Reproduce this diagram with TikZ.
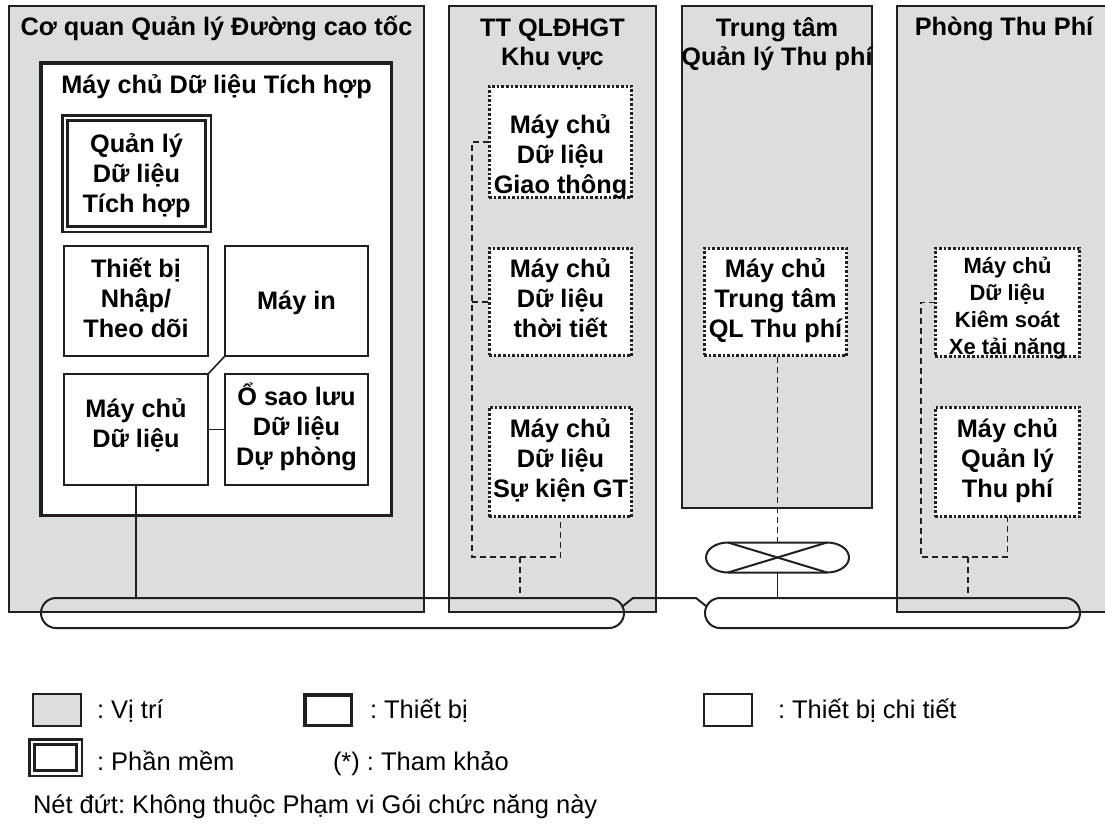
\documentclass[tikz,border=0pt]{standalone}
\usepackage{fontspec}
\setmainfont{Liberation Sans}
\usetikzlibrary{calc,shapes.misc}
\definecolor{locgray}{RGB}{220,221,223}
\definecolor{ink}{RGB}{35,31,32}
\newcommand\mys{\rule[-7pt]{0pt}{37pt}}
\newcommand\mysb{\rule[-6pt]{0pt}{32pt}}
\newcommand\tightlines{\lineskiplimit=-100pt\lineskip=0pt}
\frenchspacing
\begin{document}
\begin{tikzpicture}[x=1pt,y=-1pt,
  every node/.style={inner sep=0pt, outer sep=0pt},
  loc/.style={draw=ink, fill=locgray, line width=1.6pt},
  devbox/.style={draw=ink, fill=white, line width=3.5pt},
  detail/.style={draw=ink, fill=white, line width=1.6pt},
  softbox/.style={draw=ink, double=white, double distance=2.7pt, line width=2.5pt},
  dotbox/.style={draw=ink, fill=white, line width=2.6pt, dash pattern=on 2.6pt off 2pt},
  busline/.style={draw=ink, line width=2pt},
  conn/.style={draw=ink, line width=1.6pt},
  dashln/.style={draw=ink, line width=1.5pt, dash pattern=on 6pt off 4pt},
  ttl/.style={font=\fontsize{25.3}{30}\selectfont\bfseries, anchor=base},
  lbl/.style={font=\fontsize{25.3}{30}\selectfont\bfseries\tightlines, align=center},
  lbls/.style={font=\fontsize{22}{27.3}\selectfont\bfseries\tightlines, align=center},
  leg/.style={font=\fontsize{25.5}{30}\selectfont\frenchspacing, anchor=base west}]
\useasboundingbox (0,0) rectangle (1105,825);

% locations
\node[loc, minimum width=415.4pt, minimum height=606.4pt] (l1) at (216.5,309) {};
\node[loc, minimum width=207.4pt, minimum height=606.4pt] (l2) at (552.5,309) {};
\node[loc, minimum width=190.4pt, minimum height=502.4pt] (l3) at (777,257) {};
\node[loc, minimum width=222.4pt, minimum height=606.4pt] (l4) at (1008,309) {};

\node[ttl] (t-l1) at (216.5,35) {Cơ quan Quản lý Đường cao tốc};
\node[ttl] (t-l2a) at (552.5,36) {TT QLĐHGT};
\node[ttl] (t-l2b) at (552.5,65) {Khu vực};
\node[ttl] (t-l3a) at (777,36) {Trung tâm};
\node[ttl] (t-l3b) at (777,65) {Quản lý Thu phí};
\node[ttl] (t-l4) at (1004,35) {Phòng Thu Phí};

% integrated data server
\node[devbox, minimum width=350.5pt, minimum height=452.5pt] (ig) at (216,289) {};
\node[ttl] (t-ig) at (216.5,93) {Máy chủ Dữ liệu Tích hợp};

\node[softbox, minimum width=143.3pt, minimum height=111.3pt] (sw1) at (136.5,173.5) {};
\node[lbl] (t-sw1) at (136.5,170.5) {\mys Quản lý\\\mys Dữ liệu\\\mys Tích hợp};

\node[detail, minimum width=144.4pt, minimum height=110.4pt] (nt) at (136,301) {};
\node[lbl] (t-nt) at (136,295.5) {\mys Thiết bị\\\mys Nhập/\\\mys Theo dõi};
\node[detail, minimum width=143.4pt, minimum height=110.4pt] (mi) at (296.5,301) {};
\node[lbl] (t-mi) at (296.5,297.5) {\mys Máy in};
\node[detail, minimum width=144.4pt, minimum height=111.4pt] (mc) at (136,429.5) {};
\node[lbl] (t-mc) at (136,420.5) {\mys Máy chủ\\\mys Dữ liệu};
\node[detail, minimum width=143.4pt, minimum height=111.4pt] (os) at (296.5,429.5) {};
\node[lbl] (t-os) at (296.5,423.5) {\mys Ổ sao lưu\\\mys Dữ liệu\\\mys Dự phòng};

% other servers (dotted)
\node[dotbox, minimum width=142.5pt, minimum height=111.5pt] (gt) at (560.5,142) {};
\node[lbl] (t-gt) at (560.5,151.5) {\mys Máy chủ\\\mys Dữ liệu\\\mys Giao thông};
\node[dotbox, minimum width=142.5pt, minimum height=107.5pt] (tt) at (560.5,302) {};
\node[lbl] (t-tt) at (560.5,295.5) {\mys Máy chủ\\\mys Dữ liệu\\\mys thời tiết};
\node[dotbox, minimum width=142.5pt, minimum height=109.5pt] (sk) at (560.5,462) {};
\node[lbl] (t-sk) at (560.5,455.5) {\mys Máy chủ\\\mys Dữ liệu\\\mys Sự kiện GT};
\node[dotbox, minimum width=142.5pt, minimum height=107.5pt] (tc) at (775.5,302) {};
\node[lbl] (t-tc) at (775.5,295.5) {\mys Máy chủ\\\mys Trung tâm\\\mys QL Thu phí};
\node[dotbox, minimum width=144.5pt, minimum height=108.5pt] (kx) at (1007.5,302.5) {};
\node[lbls] (t-kx) at (1007.5,304) {\mysb Máy chủ\\\mysb Dữ liệu\\\mysb Kiêm soát\\\mysb Xe tải năng};
\node[dotbox, minimum width=144.5pt, minimum height=109.5pt] (qt) at (1007.5,462) {};
\node[lbl] (t-qt) at (1007.5,455.5) {\mys Máy chủ\\\mys Quản lý\\\mys Thu phí};

% internal connectors
\draw[conn] (mi.south west) -- (mc.north east);
\draw[conn] (mc.east) -- (os.west);

% buses
\node[busline, rounded rectangle, minimum width=583pt, minimum height=30pt] (bus1) at (332.5,613) {};
\node[busline, rounded rectangle, minimum width=375pt, minimum height=30pt] (bus2) at (892.5,613) {};
\coordinate (k1) at ($(bus1.east)+(-1.5,-6.6)$);
\coordinate (k2) at ($(bus1.east)+(9,-15)$);
\coordinate (k3) at ($(bus2.west)+(-9,-15)$);
\coordinate (k4) at ($(bus2.west)+(1.5,-6.6)$);
\draw[busline] (k1) -- (k2) -- (k3) -- (k4);

% switch
\node[minimum width=99pt, minimum height=30pt] (sw) at (777.5,557.5) {};
\draw[busline] (sw.north west) -- (sw.north east) arc (90:-90:22pt and 15pt)
  -- (sw.south west) arc (270:90:22pt and 15pt) -- cycle;
\draw[busline] (sw.north west) -- (sw.south east);
\draw[busline] (sw.south west) -- (sw.north east);
\draw[conn] (sw.south) -- (sw.south |- bus1.north);
\draw[dashln] (sw.north) -- (sw.north |- tc.south);

% solid drop from data server
\draw[conn] (mc.south) -- (mc.south |- bus1.north);

% dashed links TT QLDHGT
\coordinate (tA) at (472,557);
\coordinate (tB) at (520,557);
\draw[dashln] (gt.west) -| (tA) -| (sk.south);
\draw[dashln] (tt.west -| tA) -- (tt.west);
\draw[dashln] (tB) -- (tB |- bus1.north);

% dashed links Phong Thu Phi
\coordinate (pA) at (921,557);
\coordinate (pB) at (968,557);
\draw[dashln] (kx.west) -| (pA) -| (qt.south);
\draw[dashln] (pB) -- (pB |- bus2.north);

% legend
\node[loc, minimum width=48.4pt, minimum height=32.4pt] (lg-loc) at (57,710) {};
\node[leg] (lt-loc) at (97,718) {: Vị trí};
\node[devbox, minimum width=46.5pt, minimum height=30.5pt] (lg-dev) at (328,710) {};
\node[leg] (lt-dev) at (370,718) {: Thiết bị};
\node[detail, minimum width=48.4pt, minimum height=32.4pt] (lg-det) at (728,710) {};
\node[leg] (lt-det) at (778,718) {: Thiết bị chi tiết};
\node[softbox, minimum width=47.3pt, minimum height=31.3pt] (lg-soft) at (55.5,757.5) {};
\node[leg] (lt-soft) at (97,770) {: Phần mềm};
\node[leg] (lt-ref) at (333,770) {(*) : Tham khảo};
\node[leg] (lt-dash) at (33,813) {Nét đứt: Không thuộc Phạm vi Gói chức năng này};
\end{tikzpicture}
\end{document}
